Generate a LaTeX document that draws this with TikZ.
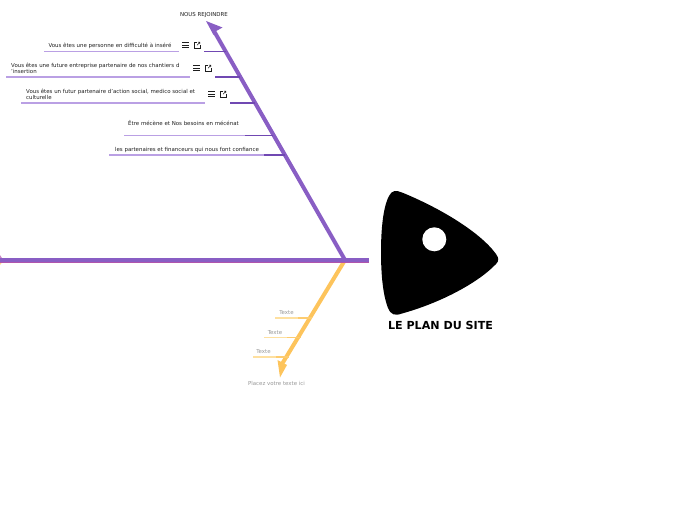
\documentclass[tikz,border=0pt]{standalone}
\usepackage{fontspec}
\setmainfont{DejaVu Sans}
\usetikzlibrary{positioning}
\definecolor{bonepurple}{RGB}{137, 94, 196}
\definecolor{spinepink}{RGB}{176, 84, 172}
\definecolor{twigpurple}{RGB}{186, 160, 228}
\definecolor{darkpurple}{RGB}{112, 72, 178}
\definecolor{boneyellow}{RGB}{253, 196, 92}
\definecolor{twigyellow}{RGB}{254, 224, 160}
\definecolor{midyellow}{RGB}{253, 204, 112}
\definecolor{notegray}{RGB}{150, 150, 150}
\definecolor{inkgray}{RGB}{30, 30, 30}
\newcommand{\menuicon}[2]{%
    \draw[iconline] (#1-3.2,#2-2.6) -- ++(6.4,0) (#1-3.2,#2) -- ++(6.4,0) (#1-3.2,#2+2.6) -- ++(6.4,0);
    \draw[iconthin] (#1+11.5,#2-2.6) -- ++(-2.6,0) -- ++(0,5.4) -- ++(5.4,0) -- ++(0,-2.6);
    \draw[iconthin] (#1+11.5,#2+0.2) -- ++(2.8,-2.9) (#1+12.4,#2-2.8) -- ++(2,0) -- ++(0,2);
}
\begin{document}
\begin{tikzpicture}[
    x=1pt, y=-1pt,
    label/.style={font=\fontsize{5.45}{6.7}\selectfont, color=inkgray, align=left, inner sep=0pt},
    note/.style={font=\fontsize{5.45}{6.7}\selectfont, color=notegray, inner sep=0pt},
    twig/.style={draw=twigpurple, line width=1.3pt},
    stem/.style={draw=darkpurple, line width=1.3pt},
    twigy/.style={draw=twigyellow, line width=1.3pt},
    stemy/.style={draw=midyellow, line width=1.3pt},
    iconline/.style={draw=inkgray, line width=0.75pt},
    iconthin/.style={draw=inkgray, line width=0.55pt},
]
    \useasboundingbox (0,0) rectangle (696,520);

    % Spine joints
    \coordinate (joint) at (345,260);
    \coordinate (tail) at (0,260);
    \coordinate (nose) at (369,260);
    \coordinate (purpleend) at (214,31);
    \coordinate (yellowend) at (282,364);

    % Bits of the cut off tips
    \fill[spinepink!70] (0,255) -- (2,258) -- (0,258) -- cycle;
    \fill[boneyellow!70] (0,262.5) -- (2,262.5) -- (0,265) -- cycle;

    % Main bones
    \draw[boneyellow, line width=4pt] (joint) -- (yellowend);
    \fill[boneyellow] (280,377.5) -- (277.5,360) -- (287,365) -- cycle;
    \draw[bonepurple, line width=4pt] (joint) -- (purpleend);
    \fill[bonepurple] (206,21) -- (222.5,27.5) -- (214.5,32) -- (213.5,35) -- cycle;
    \draw[spinepink, line width=5pt] (tail) -- (nose);
    \draw[bonepurple, line width=3.8pt] (tail) -- (nose);

    % Purple side
    \node[label] (rejoindre) at (204,15) {NOUS REJOINDRE};

    \node[label] (personne) at (110,45.8) {Vous êtes une personne en difficulté à inséré};
    \coordinate (personneA) at (44,51.5);
    \coordinate (personneB) at (179,51.5);
    \coordinate (personneC) at (204,51.5);
    \coordinate (personneD) at (226,51.5);
    \draw[twig] (personneA) -- (personneB);
    \draw[stem] (personneC) -- (personneD);
    \menuicon{185.5}{45}

    \node[label, anchor=west] (entreprise) at (11,68.5) {Vous êtes une future entreprise partenaire de nos chantiers d\\'insertion};
    \coordinate (entrepriseA) at (6,77);
    \coordinate (entrepriseB) at (190,77);
    \coordinate (entrepriseC) at (215,77);
    \coordinate (entrepriseD) at (240,77);
    \draw[twig] (entrepriseA) -- (entrepriseB);
    \draw[stem] (entrepriseC) -- (entrepriseD);
    \menuicon{196.5}{68}

    \node[label, anchor=west] (action) at (26,94.3) {Vous êtes un futur partenaire d'action social, medico social et\\culturelle};
    \coordinate (actionA) at (21,103);
    \coordinate (actionB) at (205,103);
    \coordinate (actionC) at (230,103);
    \coordinate (actionD) at (255,103);
    \draw[twig] (actionA) -- (actionB);
    \draw[stem] (actionC) -- (actionD);
    \menuicon{211.5}{94}

    \node[label] (mecene) at (183.5,123.5) {Être mécène et Nos besoins en mécénat};
    \coordinate (meceneA) at (124,135.5);
    \coordinate (meceneB) at (245,135.5);
    \coordinate (meceneC) at (273,135.5);
    \draw[twig] (meceneA) -- (meceneB);
    \draw[stem] (meceneB) -- (meceneC);

    \node[label] (financeurs) at (187,149.8) {les partenaires et financeurs qui nous font confiance};
    \coordinate (financeursA) at (109,155);
    \coordinate (financeursB) at (264,155);
    \coordinate (financeursC) at (285,155);
    \draw[twig] (financeursA) -- (financeursB);
    \draw[stem] (financeursB) -- (financeursC);

    % Yellow side
    \node[note] (texteA) at (286.5,312.5) {Texte};
    \coordinate (texteAa) at (275,318);
    \coordinate (texteAb) at (298,318);
    \coordinate (texteAc) at (312,318);
    \draw[twigy] (texteAa) -- (texteAb);
    \draw[stemy] (texteAb) -- (texteAc);

    \node[note] (texteB) at (275,332.5) {Texte};
    \coordinate (texteBa) at (264,337.5);
    \coordinate (texteBb) at (287,337.5);
    \coordinate (texteBc) at (301,337.5);
    \draw[twigy] (texteBa) -- (texteBb);
    \draw[stemy] (texteBb) -- (texteBc);

    \node[note] (texteC) at (263.5,351.5) {Texte};
    \coordinate (texteCa) at (253,357);
    \coordinate (texteCb) at (276,357);
    \coordinate (texteCc) at (289,357);
    \draw[twigy] (texteCa) -- (texteCb);
    \draw[stemy] (texteCb) -- (texteCc);

    \node[note] (placez) at (276.5,383) {Placez votre texte ici};

    % Head
    \fill[black] (381,252) .. controls (381,225) and (384,205) .. (389,196) .. controls (392,190) and (396,190) .. (402,192.5)
        .. controls (440,208) and (480,232) .. (496,254) .. controls (499,258) and (499,261) .. (496,264)
        .. controls (478,283) and (440,303) .. (402,313.5) .. controls (395,316) and (391,315) .. (388,308)
        .. controls (383,295) and (381,275) .. (381,252) -- cycle;
    \fill[white] (434.3,239.3) circle (12);
    \node[font=\fontsize{11.1}{13}\selectfont\bfseries, inner sep=0pt] (titre) at (440.5,325.5) {LE PLAN DU SITE};
\end{tikzpicture}
\end{document}
